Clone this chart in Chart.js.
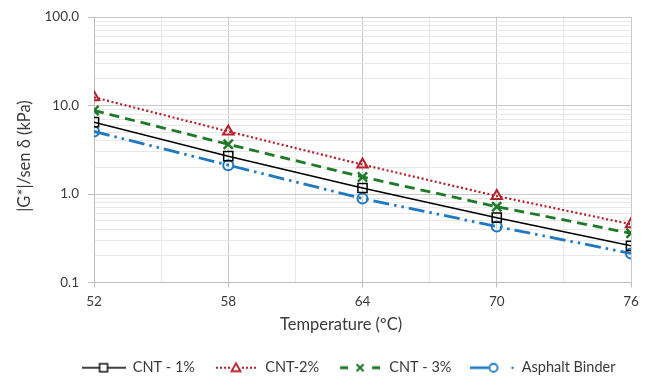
<!DOCTYPE html>
<html>
<head>
<meta charset="utf-8">
<script src="https://cdn.jsdelivr.net/npm/chart.js@4/dist/chart.umd.min.js"></script>
<style>
html,body{margin:0;padding:0;background:#fff;}
#wrap{width:646px;height:378px;position:relative;}
</style>
</head>
<body>
<div id="wrap"><canvas id="c" width="646" height="378"></canvas></div>
<script>
const temperatures = [52, 58, 64, 70, 76];
const cnt1 = [6.5, 2.68, 1.17, 0.54, 0.26];
const cnt2 = [12.4, 5.1, 2.15, 0.95, 0.455];
const cnt3 = [8.8, 3.65, 1.56, 0.72, 0.36];
const binder = [5.1, 2.12, 0.89, 0.43, 0.213];
const seriesNames = ['CNT - 1%', 'CNT-2%', 'CNT - 3%', 'Asphalt Binder'];
const xTitle = 'Temperature (ºC)';
const yTitle = '|G*|/sen δ (kPa)';

const FONT = 'Lato, "Open Sans", sans-serif';
const TXT = '#3a3a3a';
const BLACK = '#000000', RED = '#b3202a', GREEN = '#1e7a28', BLUE = '#1f78c0';

function pts(arr){ return temperatures.map((t,i)=>({x:t,y:arr[i]})); }

function legendImg(kind){
  const W = 44, H = 14;
  const c = document.createElement('canvas');
  c.width = W; c.height = H;
  const g = c.getContext('2d');
  const cy = 7, cx = W/2;
  g.lineCap = 'butt';
  if(kind===0){
    g.strokeStyle = BLACK; g.lineWidth = 1.6;
    g.beginPath(); g.moveTo(0,cy); g.lineTo(W,cy); g.stroke();
    g.fillStyle='#fff'; g.fillRect(cx-4,cy-4,8,8);
    g.lineWidth = 1.4; g.strokeRect(cx-4,cy-4,8,8);
  } else if(kind===1){
    g.fillStyle = RED;
    for (const x of [2,6,10,14,28,32,36,40]) g.fillRect(x,cy-1,2,2);
    g.strokeStyle = RED; g.lineWidth = 1.8;
    g.beginPath(); g.moveTo(cx,cy-4.5); g.lineTo(cx+4.5,cy+3.5); g.lineTo(cx-4.5,cy+3.5); g.closePath();
    g.fillStyle='#fff'; g.fill(); g.stroke();
  } else if(kind===2){
    g.strokeStyle = GREEN; g.lineWidth = 3;
    g.beginPath(); g.moveTo(2,cy); g.lineTo(10,cy); g.moveTo(34,cy); g.lineTo(42,cy); g.stroke();
    g.lineWidth = 2.2;
    g.beginPath(); g.moveTo(cx-3.5,cy-3.5); g.lineTo(cx+3.5,cy+3.5); g.moveTo(cx+3.5,cy-3.5); g.lineTo(cx-3.5,cy+3.5); g.stroke();
  } else {
    g.strokeStyle = BLUE; g.lineWidth = 2.6;
    g.beginPath(); g.moveTo(0,cy); g.lineTo(cx-4,cy); g.stroke();
    g.lineWidth = 1.8;
    g.beginPath(); g.arc(cx+1,cy,4,0,Math.PI*2); g.fillStyle='#fff'; g.fill(); g.stroke();
    g.fillStyle = BLUE; g.fillRect(41,cy-1,2.2,2.2);
  }
  return c;
}
const legendImgs = [0,1,2,3].map(legendImg);

function isDecade(v){ const l = Math.log10(v); return Math.abs(l-Math.round(l))<1e-9; }
function isMajorX(v){ return (v-52)%6===0; }

const placement = {
  id: 'placement',
  afterLayout(chart, args, opts){
    const lg = chart.legend;
    if (lg) { lg.left += opts.legendDx; lg.right += opts.legendDx; lg.top += opts.legendDy; lg.bottom += opts.legendDy; }
  },
  afterDraw(chart, args, opts){
    const ctx = chart.ctx;
    ctx.save();
    ctx.fillStyle = TXT;
    ctx.font = opts.titleSize + 'px ' + FONT;
    ctx.textAlign = 'center'; ctx.textBaseline = 'middle';
    ctx.fillText(xTitle, opts.xTitleX, opts.xTitleY);
    ctx.translate(opts.yTitleX, opts.yTitleY);
    ctx.rotate(-Math.PI/2);
    ctx.fillText(yTitle, 0, 0);
    ctx.restore();
  }
};

new Chart(document.getElementById('c'), {
  type: 'line',
  plugins: [placement],
  data: {
    datasets: [
      {label: seriesNames[0], data: pts(cnt1), borderColor: BLACK, borderWidth: 1.5,
       pointStyle:'rect', pointRadius:6.5, pointBorderWidth:1.5, pointBorderColor:BLACK, pointBackgroundColor:'rgba(255,255,255,0)'},
      {label: seriesNames[1], data: pts(cnt2), borderColor: RED, borderWidth: 2.2, borderDash:[2,2.5],
       pointStyle:'triangle', pointRadius:6, pointBorderWidth:2, pointBorderColor:RED, pointBackgroundColor:'rgba(255,255,255,0)'},
      {label: seriesNames[2], data: pts(cnt3), borderColor: GREEN, borderWidth: 2.8, borderDash:[10,6],
       pointStyle:'crossRot', pointRadius:6.5, pointBorderWidth:2.5, pointBorderColor:GREEN},
      {label: seriesNames[3], data: pts(binder), borderColor: BLUE, borderWidth: 2.8, borderDash:[16,5,2.5,5,2.5,5],
       pointStyle:'circle', pointRadius:5, pointBorderWidth:2, pointBorderColor:BLUE, pointBackgroundColor:'rgba(255,255,255,0)'}
    ]
  },
  options: {
    responsive: false,
    animation: false,
    layout: {padding: {left: 0, right: 15, top: 16, bottom: 0}},
    plugins: {
      tooltip: {enabled:false},
      placement: {legendDx: 33, legendDy: 7, titleSize: 16.5, xTitleX: 341, xTitleY: 325, yTitleX: 25, yTitleY: 156},
      legend: {
        position: 'bottom',
        labels: {
          usePointStyle: true,
          pointStyleWidth: 44,
          boxHeight: 14,
          padding: 19,
          color: TXT,
          font: {family: FONT, size: 14.5},
          generateLabels: (chart) => chart.data.datasets.map((d,i)=>({
            text: d.label, pointStyle: legendImgs[i], datasetIndex: i,
            fillStyle: 'transparent', strokeStyle: 'transparent', lineWidth: 0, fontColor: TXT
          }))
        }
      }
    },
    scales: {
      x: {
        type: 'linear', min: 52, max: 76,
        ticks: {stepSize: 3, autoSkip:false, padding: 6, color:TXT, font:{family:FONT,size:13.5},
          callback: v => isMajorX(v) ? String(v) : ''},
        grid: {
          color: c => (c.tick && isMajorX(c.tick.value)) ? '#c9c9c9' : '#e8e8e8',
          tickColor: c => (c.tick && isMajorX(c.tick.value)) ? '#bdbdbd' : 'rgba(0,0,0,0)',
          tickLength: 5, lineWidth: 1
        },
        border: {color:'#bdbdbd'},
        afterFit: s => { s.height = 52; }
      },
      y: {
        type: 'logarithmic', min: 0.1, max: 100,
        ticks: {autoSkip:false, padding: 9, color:TXT, font:{family:FONT,size:13.5},
          callback: v => isDecade(v) ? Number(v).toFixed(1) : ''},
        afterBuildTicks: s => {
          const t = [];
          for (let e=-1; e<=1; e++) for (let m=1; m<=9; m++) t.push({value: m*Math.pow(10,e)});
          t.push({value:100});
          s.ticks = t;
        },
        grid: {
          color: c => (c.tick && isDecade(c.tick.value)) ? '#c9c9c9' : '#e8e8e8',
          tickColor: c => (c.tick && isDecade(c.tick.value)) ? '#bdbdbd' : 'rgba(0,0,0,0)',
          tickLength: 6, lineWidth: 1
        },
        border: {color:'#bdbdbd'},
        afterFit: s => { s.width = 94; }
      }
    }
  }
});
</script>
</body>
</html>
